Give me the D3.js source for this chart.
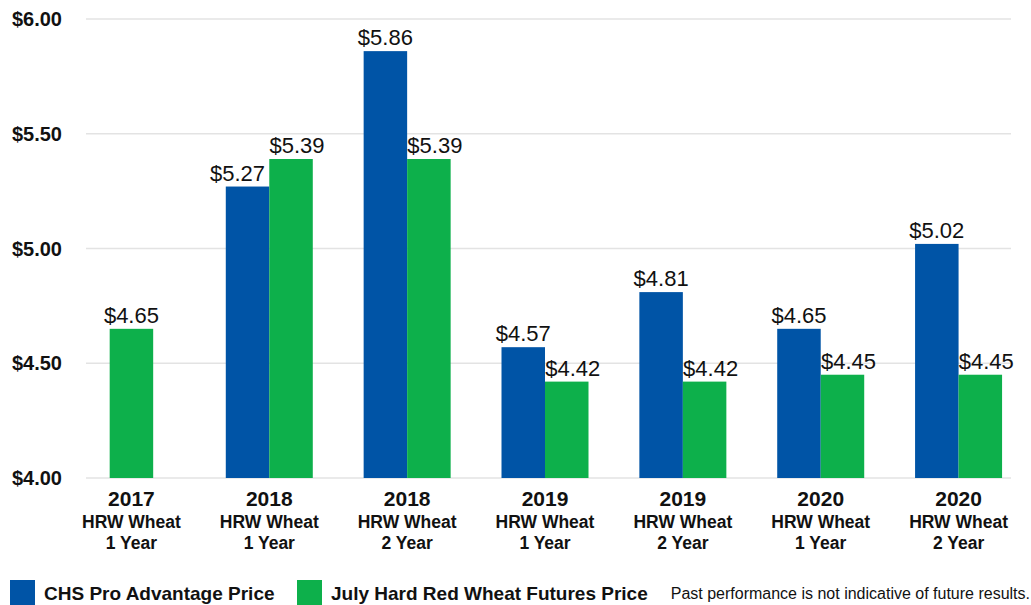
<!DOCTYPE html>
<html>
<head>
<meta charset="utf-8">
<script src="https://cdn.jsdelivr.net/npm/d3@7"></script>
<style>
  body { margin: 0; background: #fff; }
  text { font-family: "Liberation Sans", Arial, sans-serif; }
</style>
</head>
<body>
<div id="chart"></div>
<script>
// data
const years = ["2017", "2018", "2018", "2019", "2019", "2020", "2020"];
const terms = ["1 Year", "1 Year", "2 Year", "1 Year", "2 Year", "1 Year", "2 Year"];
const chsPrice = [null, 5.27, 5.86, 4.57, 4.81, 4.65, 5.02];
const futuresPrice = [4.65, 5.39, 5.39, 4.42, 4.42, 4.45, 4.45];
const yTicks = [4.0, 4.5, 5.0, 5.5, 6.0];

const blue = "#0054A6";
const green = "#0DB04B";

const width = 1031, height = 605;

const svg = d3.select("#chart")
    .append("svg")
    .attr("width", width)
    .attr("height", height);

const x = d3.scaleBand()
    .domain(d3.range(years.length))
    .range([62.5, 1027.5])
    .padding(0);

const y = d3.scaleLinear()
    .domain([4, 6])
    .range([478, 19]);

const barW = 43.5;

// grid lines
svg.append("g")
    .selectAll("line")
    .data(yTicks)
    .enter()
    .append("line")
    .attr("x1", 86)
    .attr("x2", 1011)
    .attr("y1", d => y(d))
    .attr("y2", d => y(d))
    .attr("stroke", "#e3e3e3")
    .attr("stroke-width", 1.3);

// y tick labels
svg.append("g")
    .selectAll("text")
    .data(yTicks)
    .enter()
    .append("text")
    .attr("x", 62)
    .attr("y", d => y(d))
    .attr("dy", "0.35em")
    .attr("text-anchor", "end")
    .attr("font-size", "20px")
    .attr("font-weight", "bold")
    .attr("fill", "#111")
    .text(d => "$" + d.toFixed(2));

// bars
const groups = svg.append("g")
    .selectAll("g")
    .data(years.map((yr, i) => ({ i, chs: chsPrice[i], fut: futuresPrice[i] })))
    .enter()
    .append("g");

function drawBar(g, value, xPos, color, shift) {
    g.append("rect")
        .attr("x", xPos)
        .attr("y", y(value))
        .attr("width", barW)
        .attr("height", y(4) - y(value))
        .attr("fill", color);
    g.append("text")
        .attr("x", xPos + barW / 2 + shift)
        .attr("y", y(value) - 6)
        .attr("text-anchor", "middle")
        .attr("font-size", "22px")
        .attr("fill", "#111")
        .text("$" + value.toFixed(2));
}

groups.each(function(d) {
    const g = d3.select(this);
    const cx = x(d.i) + x.bandwidth() / 2;
    if (d.chs == null) {
        drawBar(g, d.fut, cx - barW / 2, green, 0);
    } else {
        // nudge labels apart like the original
        const close = Math.abs(d.chs - d.fut) < 0.14;
        drawBar(g, d.chs, cx - barW, blue, close ? -10 : 0);
        drawBar(g, d.fut, cx, green, 6);
    }
});

// x labels
const xl = svg.append("g")
    .selectAll("g")
    .data(years.map((yr, i) => ({ yr, term: terms[i], i })))
    .enter()
    .append("g")
    .attr("transform", d => `translate(${x(d.i) + x.bandwidth() / 2},0)`);

xl.append("text")
    .attr("y", 506)
    .attr("text-anchor", "middle")
    .attr("font-size", "21px")
    .attr("font-weight", "bold")
    .attr("fill", "#111")
    .text(d => d.yr);

xl.append("text")
    .attr("y", 528)
    .attr("text-anchor", "middle")
    .attr("font-size", "17.5px")
    .attr("font-weight", "bold")
    .attr("fill", "#111")
    .text("HRW Wheat");

xl.append("text")
    .attr("y", 549)
    .attr("text-anchor", "middle")
    .attr("font-size", "17.5px")
    .attr("font-weight", "bold")
    .attr("fill", "#111")
    .text(d => d.term);

// legend
const legend = [
    { label: "CHS Pro Advantage Price", color: blue, x: 10 },
    { label: "July Hard Red Wheat Futures Price", color: green, x: 297 }
];

const lg = svg.append("g")
    .selectAll("g")
    .data(legend)
    .enter()
    .append("g")
    .attr("transform", d => `translate(${d.x},580)`);

lg.append("rect")
    .attr("width", 25)
    .attr("height", 25)
    .attr("fill", d => d.color);

lg.append("text")
    .attr("x", 34)
    .attr("y", 20)
    .attr("font-size", "19px")
    .attr("font-weight", "bold")
    .attr("fill", "#111")
    .text(d => d.label);

svg.append("text")
    .attr("x", 1030)
    .attr("y", 599)
    .attr("text-anchor", "end")
    .attr("font-size", "16px")
    .attr("fill", "#111")
    .text("Past performance is not indicative of future results.");
</script>
</body>
</html>
